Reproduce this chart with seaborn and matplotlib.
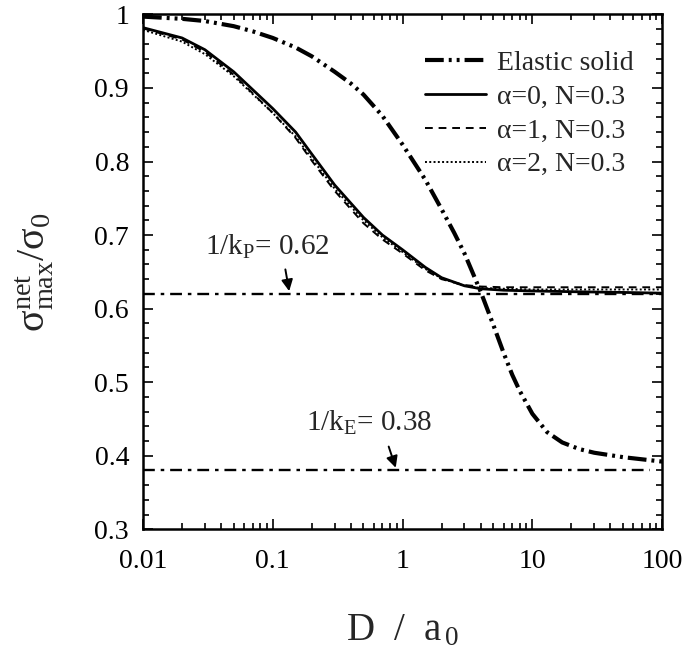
import numpy as np
import pandas as pd
import matplotlib
matplotlib.use("Agg")
import matplotlib.pyplot as plt
import matplotlib.ticker as mticker
import seaborn as sns

# ---- data ----
elastic_x = [0.01, 0.02, 0.03, 0.05, 0.07, 0.1, 0.15, 0.2, 0.3, 0.4, 0.5, 0.7, 1, 1.5, 2, 2.5, 3,
             4, 5, 6, 7, 8, 10, 13, 17, 23, 30, 50, 100]
elastic_y = [0.997, 0.994, 0.991, 0.984, 0.977, 0.968, 0.955, 0.943, 0.922, 0.906, 0.891, 0.862,
             0.823, 0.775, 0.735, 0.703, 0.675, 0.623, 0.578, 0.540, 0.510, 0.488, 0.457, 0.432,
             0.418, 0.409, 0.404, 0.398, 0.392]

plastic_x = [0.01, 0.02, 0.03, 0.05, 0.1, 0.15, 0.2, 0.3, 0.5, 0.7, 1, 1.5, 2, 3, 4, 6, 10, 20, 50, 100]
alpha0_y = [0.982, 0.968, 0.952, 0.922, 0.872, 0.840, 0.810, 0.768, 0.724, 0.700, 0.680, 0.656,
            0.642, 0.631, 0.627, 0.625, 0.624, 0.623, 0.622, 0.621]
alpha1_y = [0.981, 0.966, 0.949, 0.918, 0.866, 0.832, 0.801, 0.760, 0.716, 0.694, 0.675, 0.652,
            0.640, 0.632, 0.630, 0.629, 0.629, 0.629, 0.629, 0.629]
alpha2_y = [0.979, 0.963, 0.946, 0.916, 0.866, 0.834, 0.804, 0.763, 0.720, 0.697, 0.677, 0.654,
            0.641, 0.631, 0.628, 0.627, 0.626, 0.626, 0.626, 0.626]

kp_level = 0.62
ke_level = 0.38

x_ticks = [0.01, 0.1, 1, 10, 100]
x_ticklabels = ["0.01", "0.1", "1", "10", "100"]
y_ticks = [0.3, 0.4, 0.5, 0.6, 0.7, 0.8, 0.9, 1.0]
y_ticklabels = ["0.3", "0.4", "0.5", "0.6", "0.7", "0.8", "0.9", "1"]

# ---- style ----
sns.set_theme(style="ticks")
plt.rcParams["font.family"] = ["Liberation Serif", "DejaVu Serif"]
plt.rcParams["mathtext.fontset"] = "custom"
plt.rcParams["mathtext.rm"] = "Liberation Serif"
plt.rcParams["mathtext.it"] = "Liberation Serif:italic"

fig = plt.figure(figsize=(6.89, 6.55), dpi=100, facecolor="white")
ax = fig.add_axes([0.2075, 0.192, 0.7535, 0.786])
ax.set_facecolor("white")

sns.lineplot(x=elastic_x, y=elastic_y, ax=ax, color="black", lw=3.0,
             linestyle=(0, (4.5, 1.2, 0.7, 1.2, 0.7, 1.2)), label="Elastic solid")
sns.lineplot(x=plastic_x, y=alpha0_y, ax=ax, color="black", lw=2.0,
             linestyle="-", label=r"α=0, N=0.3")
sns.lineplot(x=plastic_x, y=alpha1_y, ax=ax, color="black", lw=1.4,
             linestyle=(0, (4, 3)), label=r"α=1, N=0.3")
sns.lineplot(x=plastic_x, y=alpha2_y, ax=ax, color="black", lw=1.4,
             linestyle=(0, (1, 1.2)), label=r"α=2, N=0.3")

# reference levels
ax.plot([0.01, 100], [kp_level, kp_level], color="black", lw=1.7,
        linestyle=(0, (5, 2.5, 1.5, 2.5)))
ax.plot([0.01, 80], [ke_level, ke_level], color="black", lw=1.7,
        linestyle=(0, (5, 2.5, 1.5, 2.5)))

ax.text(0.030, 0.684, r"1/k$_{\rm P}$= 0.62", fontsize=21, va="center", ha="left")
ax.annotate("", xy=(0.135, kp_level), xytext=(0.124, 0.657),
            arrowprops=dict(arrowstyle="-|>", color="black", lw=1.4, mutation_scale=17))
ax.text(0.180, 0.444, r"1/k$_{\rm E}$= 0.38", fontsize=21, va="center", ha="left")
ax.annotate("", xy=(0.90, ke_level), xytext=(0.77, 0.416),
            arrowprops=dict(arrowstyle="-|>", color="black", lw=1.4, mutation_scale=17))

ax.set_xscale("log")
ax.set_xlim(0.01, 100)
ax.set_ylim(0.3, 1.0)
ax.set_xticks(x_ticks)
ax.set_xticklabels(x_ticklabels)
ax.set_yticks(y_ticks)
ax.set_yticklabels(y_ticklabels)
ax.xaxis.set_minor_locator(mticker.LogLocator(base=10, subs=np.arange(2, 10)))
ax.xaxis.set_minor_formatter(mticker.NullFormatter())
ax.yaxis.set_minor_locator(mticker.MultipleLocator(0.02))

ax.tick_params(which="both", direction="in", top=True, right=True, colors="black",
               labelsize=20, width=1.2)
ax.tick_params(axis="x", which="major", pad=14)
ax.tick_params(axis="y", which="major", pad=10)
ax.tick_params(which="major", length=7)
ax.tick_params(which="minor", length=4)
for spine in ax.spines.values():
    spine.set_visible(True)
    spine.set_linewidth(1.8)
    spine.set_color("black")

ax.set_xlabel(r"D  /  a$_{\,\rm 0}$", fontsize=28, labelpad=28)
ax.set_ylabel(r"$\mathrm{σ}^{\rm net}_{\rm max}/\mathrm{σ}_0$", fontsize=29, labelpad=28)

leg = ax.legend(loc="upper right", bbox_to_anchor=(0.945, 0.93), frameon=False,
                fontsize=20, borderpad=0, borderaxespad=0, handlelength=2.2,
                handletextpad=0.4, labelspacing=0.3, markerfirst=True)
for t in leg.get_texts():
    t.set_ha("right")

fig.savefig("out.png", dpi=100, facecolor="white")
plt.close(fig)
